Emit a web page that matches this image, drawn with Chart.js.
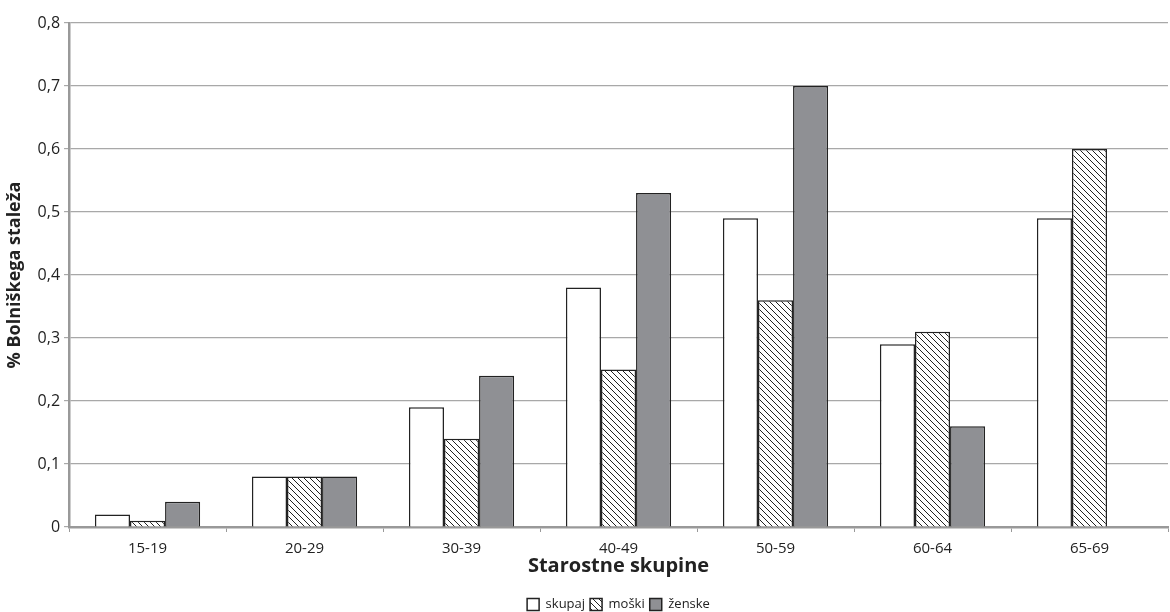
<!DOCTYPE html>
<html>
<head>
<meta charset="utf-8">
<script src="https://cdn.jsdelivr.net/npm/chart.js@4"></script>
<style>
  html, body { margin: 0; padding: 0; background: #fff; }
  #wrap { width: 1170px; height: 612px; position: relative; }
</style>
</head>
<body>
<div id="wrap"><canvas id="chart" width="1170" height="612"></canvas></div>
<script>
// data
const categories = ['15-19', '20-29', '30-39', '40-49', '50-59', '60-64', '65-69'];
const skupaj = [0.02, 0.08, 0.19, 0.38, 0.49, 0.29, 0.49];
const moski = [0.01, 0.08, 0.14, 0.25, 0.36, 0.31, 0.60];
const zenske = [0.04, 0.08, 0.24, 0.53, 0.70, 0.16, null];
const seriesNames = ['skupaj', 'moški', 'ženske'];

const font = '"Open Sans", "Noto Sans", sans-serif';

// diagonal hatch for "moški"
function makeHatch() {
    const s = 6;
    const c = document.createElement('canvas');
    c.width = s; c.height = s;
    const g = c.getContext('2d');
    g.fillStyle = '#fff';
    g.fillRect(0, 0, s, s);
    g.strokeStyle = '#222';
    g.lineWidth = 1;
    g.beginPath();
    [-s, 0, s].forEach(o => {
        g.moveTo(o, 0);
        g.lineTo(o + s, s);
    });
    g.stroke();
    return g.createPattern(c, 'repeat');
}

// centre the legend under the plot area instead of the whole canvas
const legendUnderPlot = {
    id: 'legendUnderPlot',
    afterLayout(chart) {
        const lg = chart.legend;
        if (!lg) return;
        lg.left = chart.chartArea.left;
        lg.right = chart.chartArea.right;
    }
};

const ctx = document.getElementById('chart').getContext('2d');
const hatch = makeHatch();

new Chart(ctx, {
    type: 'bar',
    data: {
        labels: categories,
        datasets: [
            { label: seriesNames[0], data: skupaj, backgroundColor: '#ffffff', borderColor: '#222', borderWidth: 1.5 },
            { label: seriesNames[1], data: moski, backgroundColor: hatch, borderColor: '#222', borderWidth: 1.5 },
            { label: seriesNames[2], data: zenske, backgroundColor: '#8f9094', borderColor: '#222', borderWidth: 1.5 }
        ]
    },
    plugins: [legendUnderPlot],
    options: {
        responsive: false,
        animation: false,
        devicePixelRatio: 1,
        layout: { padding: { top: 23, right: 2, left: 4, bottom: -9 } },
        datasets: {
            bar: { categoryPercentage: 0.67, barPercentage: 1.0 }
        },
        scales: {
            x: {
                offset: true,
                grid: { display: true, drawOnChartArea: false, offset: true, color: '#999', tickLength: 5 },
                border: { color: '#999', width: 2.5 },
                ticks: { color: '#222', font: { family: font, size: 15 }, padding: 8 },
                title: {
                    display: true,
                    text: 'Starostne skupine',
                    color: '#222',
                    font: { family: font, size: 20, weight: 'bold', lineHeight: 1 },
                    padding: { top: -10, bottom: 17 }
                }
            },
            y: {
                min: 0,
                max: 0.8,
                ticks: {
                    stepSize: 0.1,
                    color: '#222',
                    font: { family: font, size: 16 },
                    padding: 4,
                    callback: v => Number(v.toFixed(1)).toString().replace('.', ',')
                },
                grid: { color: '#a8a8a8', lineWidth: 1.2, tickLength: 5 },
                border: { color: '#999', width: 2.5 },
                title: {
                    display: true,
                    text: '% Bolniškega staleža',
                    color: '#222',
                    font: { family: font, size: 18, weight: 'bold' },
                    padding: { top: 0, bottom: 8 }
                }
            }
        },
        plugins: {
            legend: {
                position: 'bottom',
                labels: {
                    color: '#222',
                    font: { family: font, size: 13 },
                    boxWidth: 12,
                    boxHeight: 12,
                    padding: 5
                }
            },
            tooltip: { enabled: false }
        }
    }
});
</script>
</body>
</html>
